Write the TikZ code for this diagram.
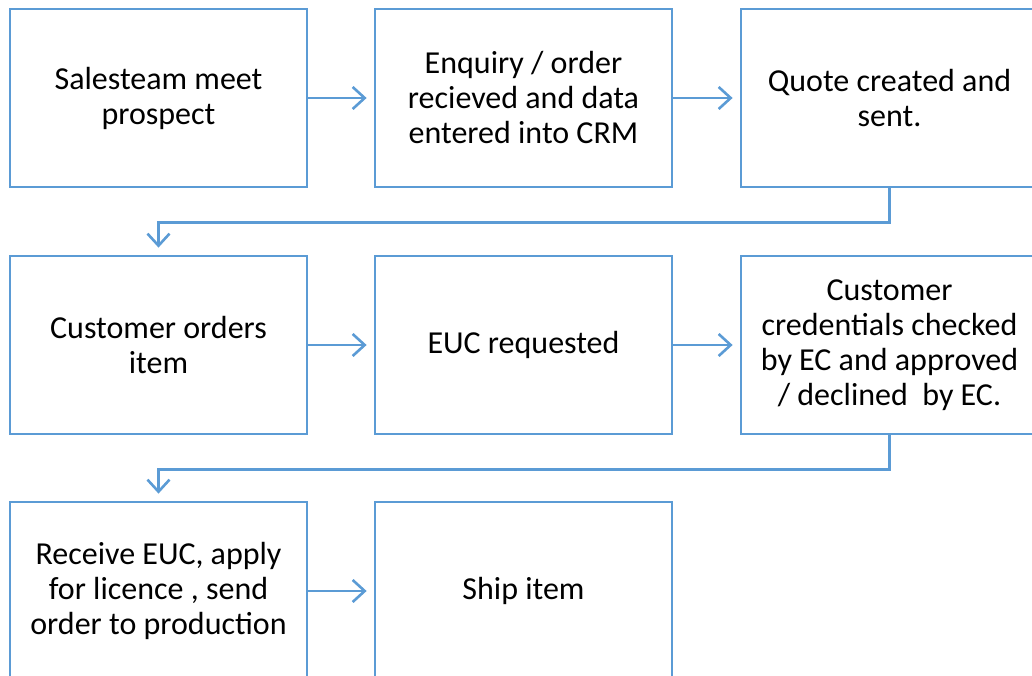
\documentclass[tikz,border=0pt]{standalone}
\usepackage{fontspec}
\setmainfont{Carlito}
\usetikzlibrary{arrows.meta}
\definecolor{flowblue}{HTML}{5B9BD5}
\tikzset{
  stepbox/.style={draw=flowblue, line width=2.8pt, rectangle,
    minimum width=297pt, minimum height=178pt, inner sep=4pt,
    align=center, text=black,
    font=\fontsize{32pt}{35pt}\selectfont},
  flow/.style={draw=flowblue, line width=2.6pt,
    -{Straight Barb[length=12pt,width=22pt,line width=2.6pt]},
    shorten >=7pt},
}
\begin{document}
\begin{tikzpicture}[x=1pt,y=-1pt]
\useasboundingbox (0,0) rectangle (1032,676);
% row 1
\node[stepbox] (meet)  at (158.5,98)   {Salesteam meet\\prospect};
\node[stepbox] (crm)   at (523.5,98)   {Enquiry / order\\recieved and data\\entered into CRM};
\node[stepbox] (quote) at (889.5,98)   {Quote created and\\sent.};
% row 2
\node[stepbox] (order) at (158.5,345)  {Customer orders\\item};
\node[stepbox] (euc)   at (523.5,345)  {EUC requested};
\node[stepbox] (check) at (889.5,345)  {Customer\\credentials checked\\by EC and approved\\/ declined\ \ by EC.};
% row 3
\node[stepbox] (lic)   at (158.5,591)  {Receive EUC, apply\\for licence , send\\order to production};
\node[stepbox] (ship)  at (523.5,591)  {Ship item};
% connectors
\draw[flow] (meet.east) -- (crm.west);
\draw[flow] (crm.east) -- (quote.west);
\draw[flow] (quote.south) -- ++(0,34) -| (order.north);
\draw[flow] (order.east) -- (euc.west);
\draw[flow] (euc.east) -- (check.west);
\draw[flow] (check.south) -- ++(0,34) -| (lic.north);
\draw[flow] (lic.east) -- (ship.west);
\end{tikzpicture}
\end{document}
